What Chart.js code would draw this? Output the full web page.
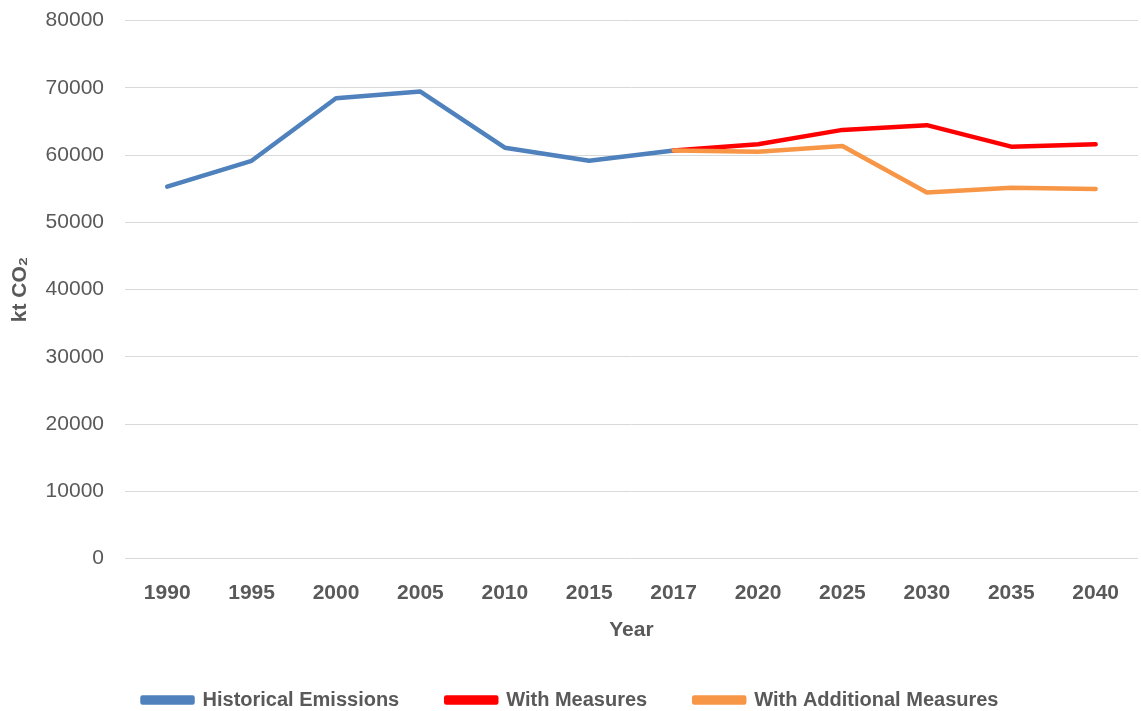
<!DOCTYPE html>
<html>
<head>
<meta charset="utf-8">
<title>Emissions projections</title>
<script src="https://cdn.jsdelivr.net/npm/chart.js@4/dist/chart.umd.min.js"></script>
<style>
  html, body { margin: 0; padding: 0; background: #ffffff; overflow: hidden; }
  #wrap { width: 1141px; height: 711px; position: relative; overflow: hidden; }
  #chart { display: block; margin-top: -13px; }
</style>
</head>
<body>
<div id="wrap"><canvas id="chart" width="1141" height="722"></canvas></div>
<script>
// Years on the category axis
const years = ['1990', '1995', '2000', '2005', '2010', '2015', '2017', '2020', '2025', '2030', '2035', '2040'];

// kt CO2 per year
const historicalEmissions = [55300, 59150, 68450, 69450, 61100, 59150, 60700, null, null, null, null, null];
const withMeasures = [null, null, null, null, null, null, 60700, 61600, 63750, 64450, 61250, 61600];
const withAdditionalMeasures = [null, null, null, null, null, null, 60700, 60500, 61350, 54450, 55150, 54950];

// Value axis ticks
const yTickValues = [0, 10000, 20000, 30000, 40000, 50000, 60000, 70000, 80000];

const textColor = '#595959';
const fontFamily = '"Liberation Sans", Arial, sans-serif';

function lineSeries(label, data, color, order) {
  return {
    label: label,
    data: data,
    borderColor: color,
    backgroundColor: color,
    borderWidth: 4.5,
    borderCapStyle: 'round',
    borderJoinStyle: 'round',
    pointRadius: 0,
    pointHoverRadius: 0,
    tension: 0,
    spanGaps: false,
    order: order
  };
}

new Chart(document.getElementById('chart'), {
  type: 'line',
  data: {
    labels: years,
    datasets: [
      lineSeries('Historical Emissions', historicalEmissions, '#4F81BD', 2),
      lineSeries('With Measures', withMeasures, '#FF0000', 1),
      lineSeries('With Additional Measures', withAdditionalMeasures, '#F79646', 0)
    ]
  },
  options: {
    responsive: false,
    animation: false,
    layout: { padding: { top: -3, right: 0, bottom: -11, left: 0 } },
    plugins: {
      tooltip: { enabled: false },
      legend: {
        position: 'bottom',
        labels: {
          color: textColor,
          font: { family: fontFamily, size: 20, weight: 'bold' },
          boxWidth: 50,
          boxHeight: 5,
          padding: 47,
          sort: (a, b) => a.datasetIndex - b.datasetIndex
        }
      }
    },
    scales: {
      x: {
        type: 'category',
        offset: true,
        grid: { display: false, drawTicks: false },
        border: { display: false },
        ticks: {
          color: textColor,
          padding: 22,
          maxRotation: 0,
          autoSkip: false,
          font: { family: fontFamily, size: 21, weight: 'bold' }
        },
        title: {
          display: true,
          text: 'Year',
          color: textColor,
          padding: { top: -10, bottom: 0 },
          font: { family: fontFamily, size: 21, weight: 'bold' }
        }
      },
      y: {
        min: 0,
        max: 80000,
        afterBuildTicks: (scale) => { scale.ticks = yTickValues.map(v => ({ value: v })); },
        afterFit: (scale) => { scale.width = 125; },
        grid: { color: '#d9d9d9', lineWidth: 1, drawTicks: false },
        border: { display: false },
        ticks: {
          color: textColor,
          padding: 21,
          font: { family: fontFamily, size: 21 },
          callback: (v) => String(v)
        },
        title: {
          display: true,
          text: 'kt CO₂',
          color: textColor,
          padding: { top: 8, bottom: 0 },
          font: { family: fontFamily, size: 21, weight: 'bold' }
        }
      }
    }
  }
});
</script>
</body>
</html>
